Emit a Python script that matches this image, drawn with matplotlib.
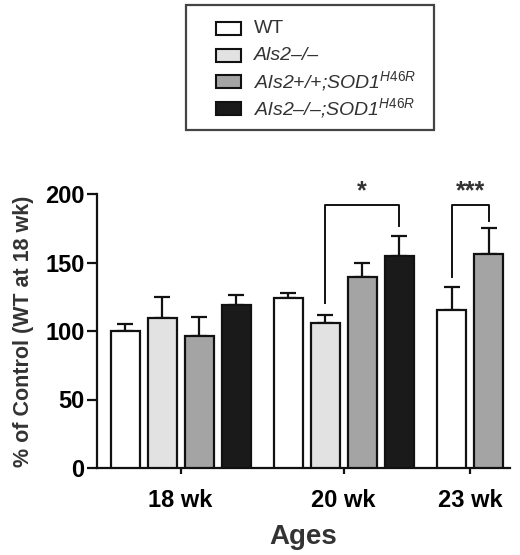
import numpy as np
import matplotlib
matplotlib.use("Agg")
import matplotlib.pyplot as plt
from matplotlib.patches import Rectangle

plt.rcParams['font.family'] = ['Liberation Sans', 'DejaVu Sans']
plt.rcParams['mathtext.fontset'] = 'custom'
plt.rcParams['mathtext.it'] = 'Liberation Sans:italic'
plt.rcParams['mathtext.rm'] = 'Liberation Sans'

# ---- data ----
ages = ['18 wk', '20 wk', '23 wk']
genotypes = ['WT', 'Als2\u2013/\u2013', 'Als2+/+;SOD1', 'Als2\u2013/\u2013;SOD1']
genotype_sup = ['', '', 'H46R', 'H46R']
colors = ['#ffffff', '#e2e2e2', '#a4a4a4', '#1a1a1a']

# values per age group (genotype index, mean, sem)
g18_idx = [0, 1, 2, 3]
g18_mean = [100, 109.5, 96, 119]
g18_err = [5, 15.5, 14.5, 7]

g20_idx = [0, 1, 2, 3]
g20_mean = [124, 105.5, 139.5, 154.5]
g20_err = [3.5, 6, 10.5, 14.5]

g23_idx = [0, 2]
g23_mean = [115, 156.5]
g23_err = [17, 18.5]

groups = [(g18_idx, g18_mean, g18_err), (g20_idx, g20_mean, g20_err), (g23_idx, g23_mean, g23_err)]
group_centers = [0.0, 4.405, 7.82]

W, H = 520, 555
fig = plt.figure(figsize=(W / 100, H / 100), dpi=100)
ax = fig.add_axes([97 / W, 1 - 468 / H, (510 - 97) / W, (468 - 194) / H])

bw = 29 / 37
bar_x = {}
for gi, ((idx, mean, err), gc) in enumerate(zip(groups, group_centers)):
    n = len(idx)
    xs = gc + (np.arange(n) - (n - 1) / 2)
    for k, (ci, m, e, x) in enumerate(zip(idx, mean, err, xs)):
        bar_x[(gi, ci)] = (x, m, e)
        ax.errorbar(x, m, yerr=[[0], [e]], fmt='none', ecolor='#111111',
                    elinewidth=1.6, capsize=6, capthick=1.6, zorder=2)
        ax.bar(x, m, width=bw, color=colors[ci], edgecolor='#111111',
               linewidth=1.6, zorder=3)

ax.set_xlim(-2.26, 8.9)
ax.set_ylim(0, 200)
ax.set_yticks([0, 50, 100, 150, 200])
ax.set_xticks(group_centers)
ax.set_xticklabels(ages)
for s in ['top', 'right']:
    ax.spines[s].set_visible(False)
for s in ['left', 'bottom']:
    ax.spines[s].set_linewidth(1.6)
    ax.spines[s].set_color('#111111')
ax.tick_params(axis='y', length=7, width=1.6, labelsize=17, pad=2, colors='#111111')
ax.tick_params(axis='x', length=4, width=1.6, labelsize=17, pad=11, colors='#111111')
for lab in ax.get_xticklabels() + ax.get_yticklabels():
    lab.set_fontweight('bold')
    lab.set_color('black')
ax.set_ylabel('% of Control (WT at 18 wk)', fontsize=15.5, fontweight='bold',
              color='#333333', labelpad=8)
ax.set_xlabel('Ages', fontsize=20, fontweight='bold', color='#333333', labelpad=9)

# significance brackets
def bracket(p1, p2, ytop, yl, yr, txt):
    x1, x2 = p1, p2
    ax.plot([x1, x1, x2, x2], [yl, ytop, ytop, yr], color='#111111', lw=1.4,
            clip_on=False, zorder=4)
    ax.text((x1 + x2) / 2, ytop + 1, txt, ha='center', va='bottom',
            fontsize=18, fontweight='bold', color='#333333')

xa = bar_x[(1, 1)][0]; xb = bar_x[(1, 3)][0]
bracket(xa, xb, 192, 120.5, 176.5, '*')
xa = bar_x[(2, 0)][0]; xb = bar_x[(2, 2)][0]
bracket(xa, xb, 192, 139.5, 180.5, '***')

# legend box drawn manually
fig.patches.append(Rectangle((186 / W, 1 - 130 / H), (434 - 186) / W, (130 - 5) / H,
                             transform=fig.transFigure, facecolor='white',
                             edgecolor='#444444', linewidth=1.6))
row_y = [28.5, 55, 81.5, 108]
for i, (g, sup, c) in enumerate(zip(genotypes, genotype_sup, colors)):
    yc = row_y[i]
    fig.patches.append(Rectangle((216 / W, 1 - (yc + 6.5) / H), 25 / W, 13 / H,
                                 transform=fig.transFigure, facecolor=c,
                                 edgecolor='#111111', linewidth=1.5))
    label = g if not sup else g + r'$^{\mathit{' + sup + '}}$'
    style = 'normal' if i == 0 else 'italic'
    fig.text(254 / W, 1 - yc / H, label, fontsize=14, style=style,
             color='#333333', va='center', ha='left')

fig.savefig('out.png', dpi=100)
